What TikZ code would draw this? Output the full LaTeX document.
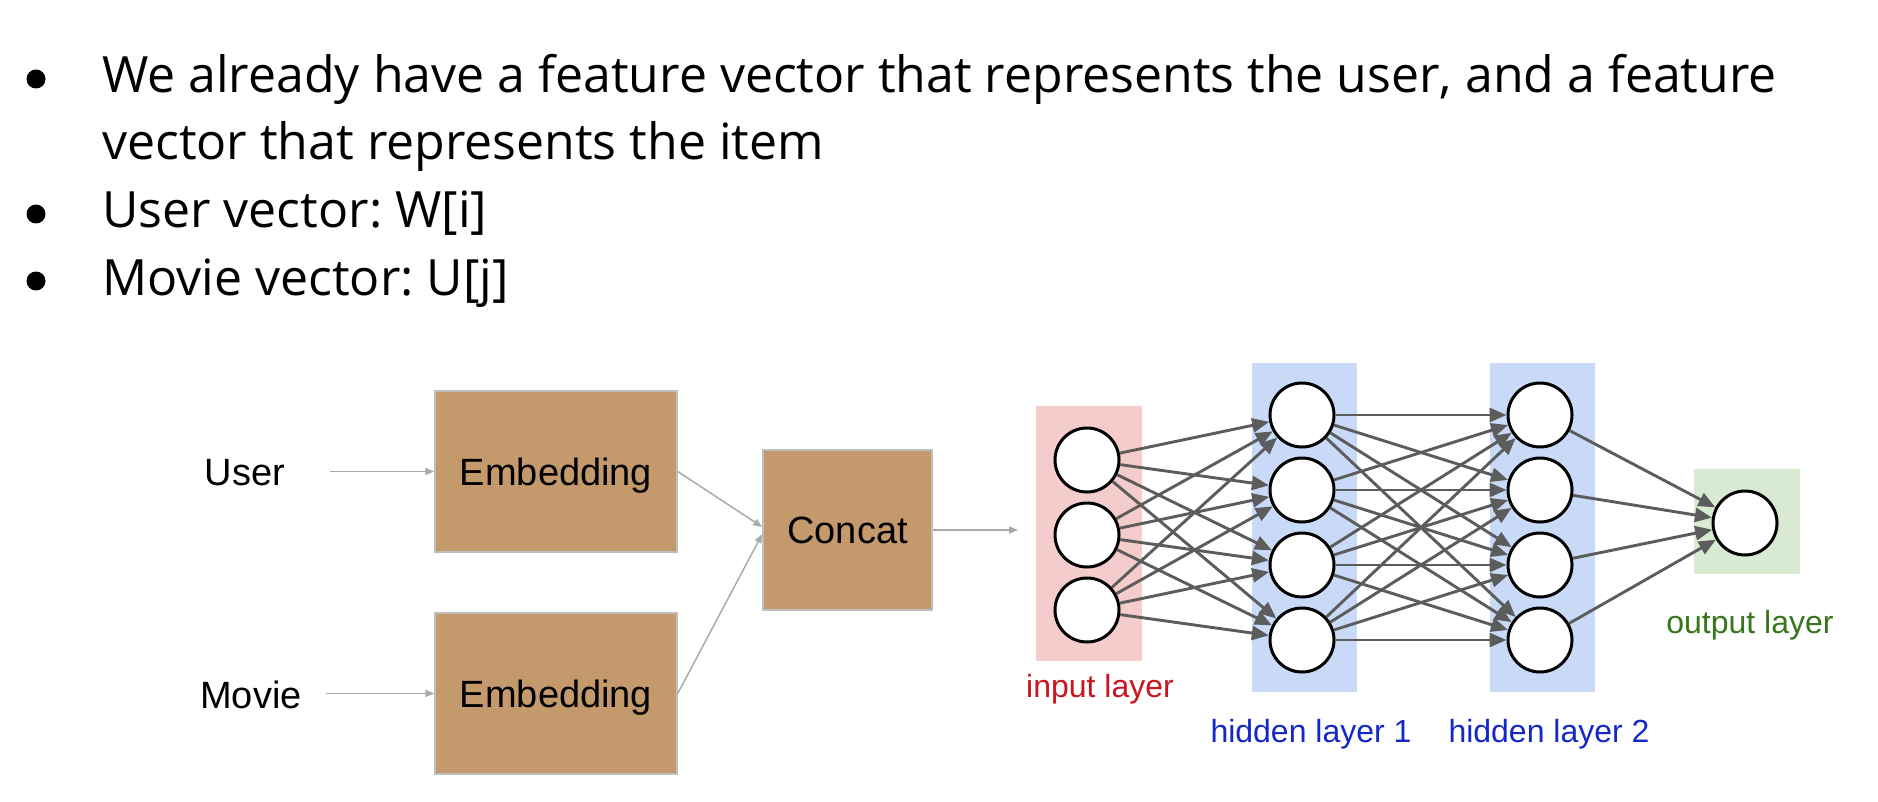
\documentclass[tikz,border=0pt]{standalone}
\usepackage{fontspec}
\setmainfont{Liberation Sans}
\newfontfamily\bulletfont{Open Sans}
\usetikzlibrary{arrows.meta}
\frenchspacing
\definecolor{tanc}{RGB}{196,154,108}
\definecolor{pinkc}{RGB}{244,204,204}
\definecolor{bluec}{RGB}{201,218,248}
\definecolor{greenc}{RGB}{217,234,211}
\definecolor{redt}{RGB}{204,20,30}
\definecolor{bluet}{RGB}{20,40,200}
\definecolor{greent}{RGB}{56,118,29}
\definecolor{edgec}{RGB}{92,92,92}
\definecolor{lightc}{RGB}{170,170,170}
\definecolor{boxline}{RGB}{190,190,190}
\begin{document}
\begin{tikzpicture}[x=1pt,y=-1pt,
  bul/.style={circle,fill=black,minimum size=19pt,inner sep=0pt},
  btext/.style={anchor=base west,inner sep=0pt,font=\bulletfont\fontsize{50}{52}\selectfont\frenchspacing},
  lbl/.style={anchor=base,inner sep=0pt,font=\fontsize{38}{40}\selectfont},
  box/.style={draw=boxline,line width=1.5pt,fill=tanc,inner sep=0pt,text height=27pt,text depth=0pt,font=\fontsize{38}{40}\selectfont},
  layerbg/.style={inner sep=0pt,draw=none},
  neuron/.style={circle,draw=black,line width=3pt,fill=white,minimum size=64pt,inner sep=0pt},
  llab/.style={anchor=base,inner sep=0pt,font=\fontsize{32}{34}\selectfont},
  larrow/.style={draw=lightc,line width=1.5pt,-{Triangle[length=9pt,width=7pt]}},
  nnarrow/.style={draw=edgec,line width=2.9pt,-{Triangle[length=17pt,width=14pt]}}]
\useasboundingbox[fill=white] (0,0) rectangle (1878,802);

% bullets
\node[bul] (b1) at (36,79) {};
\node[btext] (t1) at (102,93) {We already have a feature vector that represents the user, and a feature};
\node[btext] (t2) at (102,160) {vector that represents the item};
\node[bul] (b3) at (36,214) {};
\node[btext] (t3) at (102,228) {User vector: W[i]};
\node[bul] (b4) at (36,281) {};
\node[btext] (t4) at (102,295) {Movie vector: U[j]};

% left part
\node[lbl] (user) at (245,485) {User};
\node[lbl] (movie) at (251,708) {Movie};
\node[box,minimum width=242pt,minimum height=161pt] (emb1) at (556,471.5) {Embedding};
\node[box,minimum width=242pt,minimum height=161pt] (emb2) at (556,693.5) {Embedding};
\node[box,minimum width=169pt,minimum height=160pt] (concat) at (847.5,530) {Concat};
\coordinate (ustart) at (330,471.5);
\coordinate (mstart) at (326,693.5);
\coordinate (ptip) at (1018,530);
\draw[larrow] (ustart) -- (emb1.west);
\draw[larrow] (mstart) -- (emb2.west);
\draw[larrow] (emb1.east) -- ([yshift=3pt]concat.west);
\draw[larrow] (emb2.east) -- ([yshift=-4pt]concat.west);
\draw[larrow] (concat.east) -- (ptip);

% layer backgrounds
\node[layerbg,fill=pinkc,minimum width=106pt,minimum height=255pt] (inbg) at (1089,533.5) {};
\node[layerbg,fill=bluec,minimum width=105pt,minimum height=329pt] (h1bg) at (1304.5,527.5) {};
\node[layerbg,fill=bluec,minimum width=105pt,minimum height=329pt] (h2bg) at (1542.5,527.5) {};
\node[layerbg,fill=greenc,minimum width=106pt,minimum height=105pt] (outbg) at (1747,521.5) {};

% neurons
\node[neuron] (i1) at (1087,460) {};
\node[neuron] (i2) at (1087,535) {};
\node[neuron] (i3) at (1087,610) {};
\node[neuron] (h1) at (1302,415) {};
\node[neuron] (h2) at (1302,490) {};
\node[neuron] (h3) at (1302,565) {};
\node[neuron] (h4) at (1302,640) {};
\node[neuron] (g1) at (1540,415) {};
\node[neuron] (g2) at (1540,490) {};
\node[neuron] (g3) at (1540,565) {};
\node[neuron] (g4) at (1540,640) {};
\node[neuron] (o) at (1745,523) {};

\foreach \a in {1,2,3} \foreach \b in {1,2,3,4} \draw[nnarrow] (i\a) -- (h\b);
\foreach \a in {1,2,3,4} \foreach \b in {1,2,3,4} \draw[nnarrow] (h\a) -- (g\b);
\foreach \a in {1,2,3,4} \draw[nnarrow] (g\a) -- (o);

% labels
\node[llab,text=redt] (inlab) at (1100,697) {input layer};
\node[llab,text=bluet] (h1lab) at (1311,742) {hidden layer 1};
\node[llab,text=bluet] (h2lab) at (1549,742) {hidden layer 2};
\node[llab,text=greent] (outlab) at (1750,633) {output layer};
\end{tikzpicture}
\end{document}
